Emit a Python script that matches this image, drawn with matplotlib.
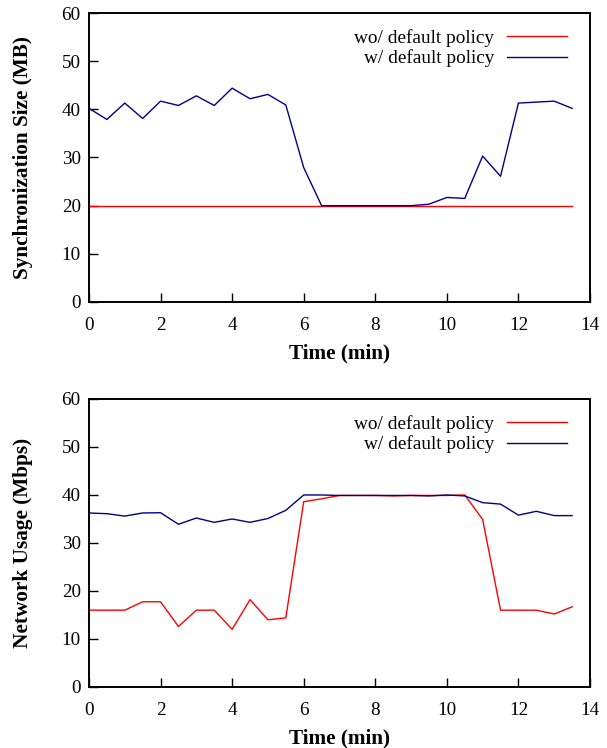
import matplotlib
matplotlib.use("Agg")
import matplotlib.pyplot as plt

plt.rcParams['font.family'] = ['Liberation Serif', 'DejaVu Serif']

time = [0, 0.5, 1, 1.5, 2, 2.5, 3, 3.5, 4, 4.5, 5, 5.5, 6, 6.5, 7, 7.5, 8, 8.5,
        9, 9.5, 10, 10.5, 11, 11.5, 12, 12.5, 13, 13.5]

sync_wo = [20] * 28
sync_w = [40.2, 37.9, 41.3, 38.1, 41.7, 40.8, 42.8, 40.8, 44.4, 42.2, 43.1, 40.9,
          27.9, 20.0, 20.0, 20.0, 20.0, 20.0, 20.0, 20.3, 21.7, 21.5, 30.3, 26.1,
          41.3, 41.5, 41.7, 40.2]

net_wo = [16.0, 16.0, 16.0, 17.75, 17.75, 12.6, 16.0, 16.0, 12.0, 18.2, 14.0, 14.4,
          38.6, 39.2, 39.9, 39.9, 39.9, 39.8, 39.9, 39.9, 39.9, 40.0, 34.9, 16.0,
          16.0, 16.0, 15.2, 16.7]
net_w = [36.25, 36.1, 35.6, 36.25, 36.3, 33.9, 35.2, 34.3, 35.0, 34.3, 35.1, 36.8,
         40.0, 40.0, 39.9, 39.9, 39.9, 39.9, 39.9, 39.8, 40.0, 39.8, 38.4, 38.1,
         35.8, 36.6, 35.7, 35.7]

labels = ["wo/ default policy", "w/ default policy"]
xticks = [0, 2, 4, 6, 8, 10, 12, 14]
yticks = [0, 10, 20, 30, 40, 50, 60]

fig = plt.figure(figsize=(6.07, 7.48), dpi=100)
ax1 = fig.add_axes([0.1466, 0.5963, 0.8254, 0.3863])
ax2 = fig.add_axes([0.1466, 0.0816, 0.8254, 0.3850])

def style(ax, ylabel, wo, w):
    ax.plot(time, wo, color='#ff0000', lw=1.0, label=labels[0])
    ax.plot(time, w, color='#00008b', lw=1.0, label=labels[1])
    ax.set_xlim(0, 14)
    ax.set_ylim(0, 60)
    ax.set_xticks(xticks)
    ax.set_yticks(yticks)
    ax.tick_params(direction='in', length=6.5, width=1.0, labelsize=13.8,
                   top=False, right=False)
    ax.tick_params(axis='x', pad=10.5)
    ax.tick_params(axis='y', pad=6)
    for s in ax.spines.values():
        s.set_linewidth(1.4)
    ax.set_xlabel("Time (min)", fontsize=15.3, fontweight='bold', labelpad=7)
    ax.set_ylabel(ylabel, fontsize=15.3, fontweight='bold', labelpad=20.5)
    leg = ax.legend(loc='upper right', frameon=False, markerfirst=False,
                    fontsize=13.9, handlelength=3.1, handletextpad=0.67,
                    labelspacing=0.13, borderaxespad=0.4,
                    bbox_to_anchor=(0.985, 0.998))
    for t in leg.get_texts():
        t.set_ha('right')

style(ax1, "Synchronization Size (MB)", sync_wo, sync_w)
style(ax2, "Network Usage (Mbps)", net_wo, net_w)

fig.savefig("out.png", dpi=100)
